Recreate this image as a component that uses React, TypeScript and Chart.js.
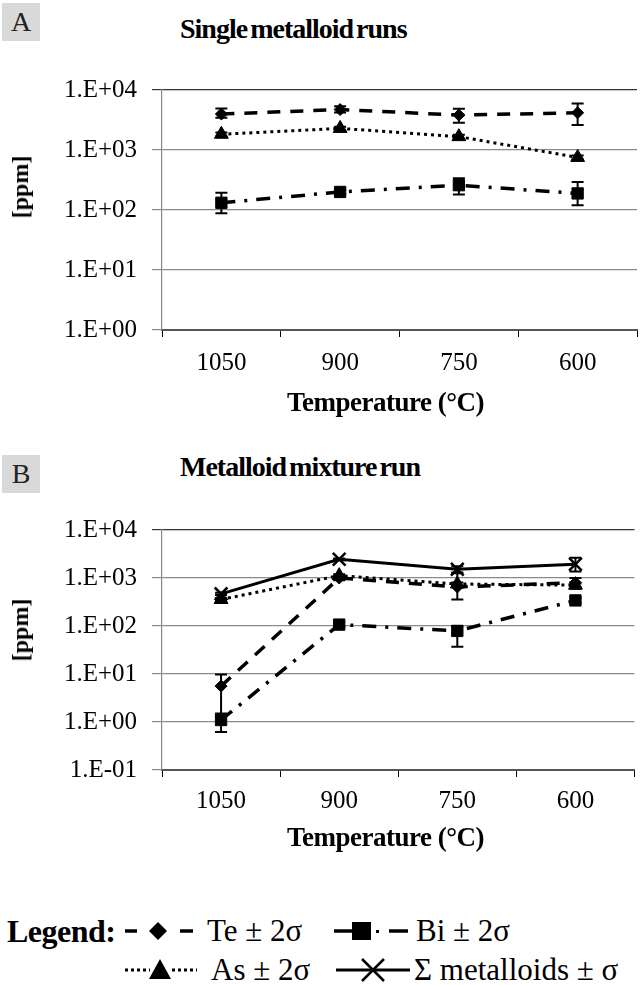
import React, { useEffect, useRef } from "react";
import { Chart, registerables } from "chart.js";
Chart.register(...registerables);

// ---------- data ----------
const categories = ["1050", "900", "750", "600"];
const yTicksA = [1, 10, 100, 1000, 10000];
const yTicksB = [0.1, 1, 10, 100, 1000, 10000];

// Panel A: single metalloid runs
const teA = [3970, 4720, 3820, 4170];
const teALow = [3450, 4230, 2850, 2610];
const teAHigh = [4900, 5370, 4850, 5960];
const asA = [1830, 2290, 1670, 752];
const asALow = [1700, 2150, 1560, 700];
const asAHigh = [1960, 2440, 1790, 810];
const biA = [132, 200, 259, 189];
const biALow = [88, 185, 182, 120];
const biAHigh = [193, 216, 339, 294];

// Panel B: metalloid mixture run
const sumB = [467, 2450, 1520, 1930];
const sumBLow = [440, 2350, 1300, 1365];
const sumBHigh = [495, 2560, 1750, 2630];
const asB = [357, 1120, 750, 710];
const asBLow = [330, 1040, 690, 650];
const asBHigh = [385, 1200, 810, 770];
const teB = [5.6, 1000, 650, 800];
const teBLow = [1.3, 900, 355, 600];
const teBHigh = [9.8, 1100, 1260, 1000];
const biB = [1.1, 107, 79, 341];
const biBLow = [0.62, 95, 37, 300];
const biBHigh = [1.5, 120, 100, 390];

const SERIF = "Liberation Serif, DejaVu Serif, serif";

const fmtTick = (v: number) => {
  const e = Math.round(Math.log10(v));
  const sign = e < 0 ? "-" : "+";
  return "1.E" + sign + String(Math.abs(e)).padStart(2, "0");
};

const errorBarPlugin = {
  id: "errbars",
  afterDatasetsDraw(chart: any) {
    const ctx = chart.ctx;
    const ys = chart.scales.y;
    chart.data.datasets.forEach((ds: any, i: number) => {
      const meta = chart.getDatasetMeta(i);
      const lo = ds.errLow;
      const hi = ds.errHigh;
      if (!lo || !hi) return;
      meta.data.forEach((pt: any, j: number) => {
        const x = pt.x;
        const y1 = ys.getPixelForValue(lo[j]);
        const y2 = ys.getPixelForValue(hi[j]);
        ctx.save();
        ctx.strokeStyle = "#000";
        ctx.lineWidth = 2;
        ctx.setLineDash([]);
        ctx.beginPath();
        ctx.moveTo(x, y1);
        ctx.lineTo(x, y2);
        ctx.moveTo(x - 6, y1);
        ctx.lineTo(x + 6, y1);
        ctx.moveTo(x - 6, y2);
        ctx.lineTo(x + 6, y2);
        ctx.stroke();
        ctx.restore();
      });
    });
  },
};

const teStyle = {
  borderColor: "#000",
  backgroundColor: "#000",
  borderWidth: 3.5,
  borderDash: [13, 10],
  pointStyle: "rectRot",
  pointRadius: 6,
  pointBackgroundColor: "#000",
  pointBorderColor: "#000",
  pointBorderWidth: 1,
  tension: 0,
};
const asStyle = {
  borderColor: "#000",
  backgroundColor: "#000",
  borderWidth: 3,
  borderDash: [3, 4],
  pointStyle: "triangle",
  pointRadius: 8,
  pointBackgroundColor: "#000",
  pointBorderColor: "#000",
  pointBorderWidth: 1,
  tension: 0,
};
const biStyle = {
  borderColor: "#000",
  backgroundColor: "#000",
  borderWidth: 3.5,
  borderDash: [14, 9, 3, 9],
  pointStyle: "rect",
  pointRadius: 8,
  pointBackgroundColor: "#000",
  pointBorderColor: "#000",
  pointBorderWidth: 1,
  tension: 0,
};
const sumStyle = {
  borderColor: "#000",
  backgroundColor: "#000",
  borderWidth: 3,
  pointStyle: "crossRot",
  pointRadius: 9,
  pointBackgroundColor: "#000",
  pointBorderColor: "#000",
  pointBorderWidth: 2.5,
  tension: 0,
};

function makeConfig(datasets: any[], ticks: number[], padTop: number, labelPad: number) {
  const min = ticks[0];
  const max = ticks[ticks.length - 1];
  return {
    type: "line",
    data: { labels: categories, datasets },
    options: {
      animation: false,
      responsive: false,
      maintainAspectRatio: false,
      layout: { padding: { top: padTop, left: 0, right: 0, bottom: 0 } },
      plugins: { legend: { display: false }, tooltip: { enabled: false } },
      scales: {
        x: {
          type: "category",
          offset: true,
          grid: {
            display: true,
            drawOnChartArea: false,
            drawTicks: true,
            tickLength: 7,
            color: "#000",
            offset: true,
          },
          border: { display: true, color: "#555", width: 2 },
          ticks: {
            font: { family: SERIF, size: 25 },
            color: "#000",
            padding: labelPad,
            maxRotation: 0,
            autoSkip: false,
          },
          afterFit: (s: any) => {
            s.height = 90;
          },
        },
        y: {
          type: "logarithmic",
          min,
          max,
          afterBuildTicks: (s: any) => {
            s.ticks = ticks.map((v) => ({ value: v }));
          },
          ticks: {
            callback: (v: any) => fmtTick(Number(v)),
            font: { family: SERIF, size: 25 },
            color: "#000",
            padding: 15,
            autoSkip: false,
          },
          grid: {
            color: (c: any) => (c.tick && c.tick.value === max ? "#333" : "#8a8a8a"),
            tickLength: 10,
            lineWidth: 1.2,
          },
          border: { display: true, color: "#888", width: 1.2 },
          afterFit: (s: any) => {
            s.width = 162;
          },
        },
      },
    },
    plugins: [errorBarPlugin],
  };
}

function ChartCanvas({ config, top }: { config: any; top: number }) {
  const ref = useRef<HTMLCanvasElement | null>(null);
  useEffect(() => {
    if (!ref.current) return;
    const ch = new Chart(ref.current, config);
    return () => ch.destroy();
  }, [config]);
  return (
    <canvas
      ref={ref}
      width={646}
      height={360}
      style={{ position: "absolute", left: 0, top, width: 646, height: 360 }}
    />
  );
}

const configA = makeConfig(
  [
    { label: "Te", data: teA, errLow: teALow, errHigh: teAHigh, ...teStyle },
    { label: "As", data: asA, errLow: asALow, errHigh: asAHigh, ...asStyle },
    { label: "Bi", data: biA, errLow: biALow, errHigh: biAHigh, ...biStyle },
  ],
  yTicksA,
  28,
  11
);

const configB = makeConfig(
  [
    { label: "Te", data: teB, errLow: teBLow, errHigh: teBHigh, ...teStyle },
    { label: "Bi", data: biB, errLow: biBLow, errHigh: biBHigh, ...biStyle },
    { label: "As", data: asB, errLow: asBLow, errHigh: asBHigh, ...asStyle },
    { label: "Σ metalloids", data: sumB, errLow: sumBLow, errHigh: sumBHigh, ...sumStyle },
  ],
  yTicksB,
  27,
  9
);

const abs = (x: number, y: number, extra: any = {}) => ({
  position: "absolute" as const,
  left: x,
  top: y,
  whiteSpace: "nowrap" as const,
  fontFamily: SERIF,
  color: "#000",
  ...extra,
});

function PanelLabel({ letter, top }: { letter: string; top: number }) {
  return (
    <div
      style={abs(2, top, {
        width: 38,
        height: 38,
        background: "#d9d9d9",
        fontSize: 28,
        lineHeight: "38px",
        textAlign: "center",
        color: "#222",
      })}
    >
      {letter}
    </div>
  );
}

export default function App() {
  const titleStyle = { fontSize: 28, fontWeight: 700, letterSpacing: -1, wordSpacing: -3, lineHeight: "32px" };
  const axisTitle = { fontSize: 27, fontWeight: 700, lineHeight: "30px", letterSpacing: -0.5 };
  const ppm = { fontSize: 24, fontWeight: 700, lineHeight: "26px", transform: "translate(-50%, -50%) rotate(-90deg)" };
  const legText = { fontSize: 31, lineHeight: "36px" };
  return (
    <div style={{ position: "absolute", left: 0, top: 0, width: 642, height: 985, overflow: "hidden", background: "#fff" }}>
      <PanelLabel letter="A" top={3} />
      <div style={abs(180, 13, titleStyle)}>Single metalloid runs</div>
      <ChartCanvas config={configA} top={60} />
      <div style={abs(20, 187, ppm)}>[ppm]</div>
      <div style={abs(287, 387, axisTitle)}>Temperature (°C)</div>

      <PanelLabel letter="B" top={455} />
      <div style={abs(180, 451, titleStyle)}>Metalloid mixture run</div>
      <ChartCanvas config={configB} top={500} />
      <div style={abs(20, 630, ppm)}>[ppm]</div>
      <div style={abs(287, 822, axisTitle)}>Temperature (°C)</div>

      {/* legend */}
      <div style={abs(7, 913, { fontSize: 32, fontWeight: 700, lineHeight: "36px", letterSpacing: -0.5 })}>Legend:</div>
      <div style={abs(207, 913, legText)}>Te ± 2σ</div>
      <div style={abs(416, 913, legText)}>Bi ± 2σ</div>
      <div style={abs(211, 952, legText)}>As ± 2σ</div>
      <div style={abs(414, 952, legText)}>Σ metalloids ± σ</div>
      <svg width={642} height={985} style={{ position: "absolute", left: 0, top: 0, pointerEvents: "none" }}>
        {/* Te */}
        <line x1={125} y1={931} x2={137} y2={931} stroke="#000" strokeWidth={3.5} />
        <polygon points="158,922 167,931 158,940 149,931" fill="#000" />
        <line x1={180} y1={931} x2={193} y2={931} stroke="#000" strokeWidth={3.5} />
        {/* Bi */}
        <line x1={334} y1={931} x2={352} y2={931} stroke="#000" strokeWidth={3.5} />
        <rect x={352} y={922} width={19} height={18} fill="#000" />
        <rect x={376} y={930} width={3} height={3} fill="#000" />
        <line x1={389} y1={931} x2={408} y2={931} stroke="#000" strokeWidth={3.5} />
        {/* As */}
        <line x1={125} y1={970} x2={150} y2={970} stroke="#000" strokeWidth={3} strokeDasharray="3 3" />
        <polygon points="160,959 171,979 149,979" fill="#000" />
        <line x1={172} y1={970} x2={197} y2={970} stroke="#000" strokeWidth={3} strokeDasharray="3 3" />
        {/* Sum */}
        <line x1={336} y1={970} x2={410} y2={970} stroke="#000" strokeWidth={3} />
        <line x1={362} y1={959} x2={384} y2={981} stroke="#000" strokeWidth={2.5} />
        <line x1={362} y1={981} x2={384} y2={959} stroke="#000" strokeWidth={2.5} />
      </svg>
    </div>
  );
}
